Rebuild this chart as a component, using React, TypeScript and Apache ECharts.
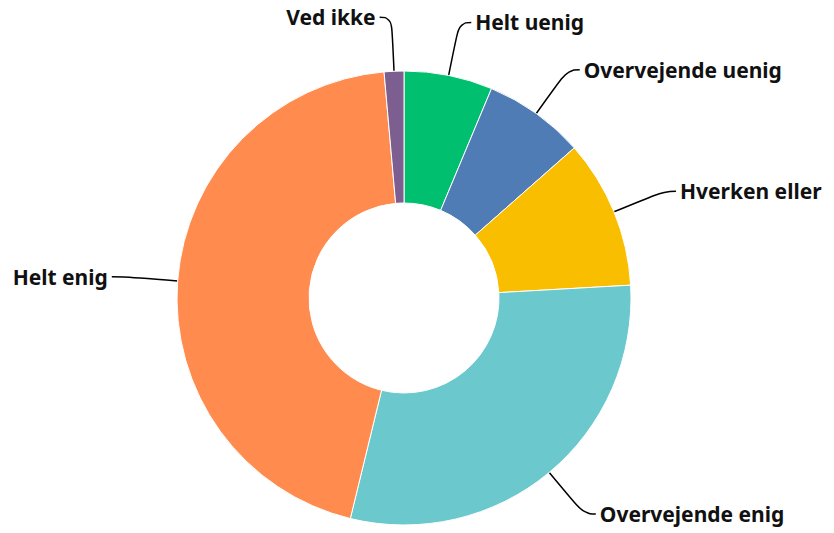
import React, { useEffect, useRef } from "react";
import * as echarts from "echarts";

const categories = ["Helt uenig", "Overvejende uenig", "Hverken eller", "Overvejende enig", "Helt enig", "Ved ikke"];
const values = [6.3, 7.2, 10.6, 29.7, 44.8, 1.4];
const colors = ["#00BF6F", "#507CB6", "#F9BE00", "#6BC8CD", "#FF8B4F", "#7D5E90"];

export default function App() {
  const ref = useRef<HTMLDivElement>(null);
  useEffect(() => {
    document.body.style.margin = "0";
    const chart = echarts.init(ref.current!, null, { renderer: "svg" });
    chart.setOption({
      animation: false,
      backgroundColor: "#ffffff",
      series: [
        {
          type: "pie",
          center: [404, 298],
          radius: [95, 227],
          startAngle: 90,
          clockwise: true,
          avoidLabelOverlap: true,
          data: categories.map((c, i) => ({ name: c, value: values[i], itemStyle: { color: colors[i] } })),
          itemStyle: { borderColor: "#ffffff", borderWidth: 1 },
          label: {
            show: true,
            formatter: "{b}",
            color: "#111111",
            fontFamily: "Noto Sans",
            fontWeight: "bold",
            fontSize: 21,
            distanceToLabelLine: 4,
          },
          labelLine: {
            show: true,
            length: 54,
            length2: 12,
            smooth: 0.5,
            lineStyle: { color: "#000000", width: 1.5 },
          },
        },
      ],
    });
    return () => chart.dispose();
  }, []);
  return <div ref={ref} style={{ width: 834, height: 533 }} />;
}
